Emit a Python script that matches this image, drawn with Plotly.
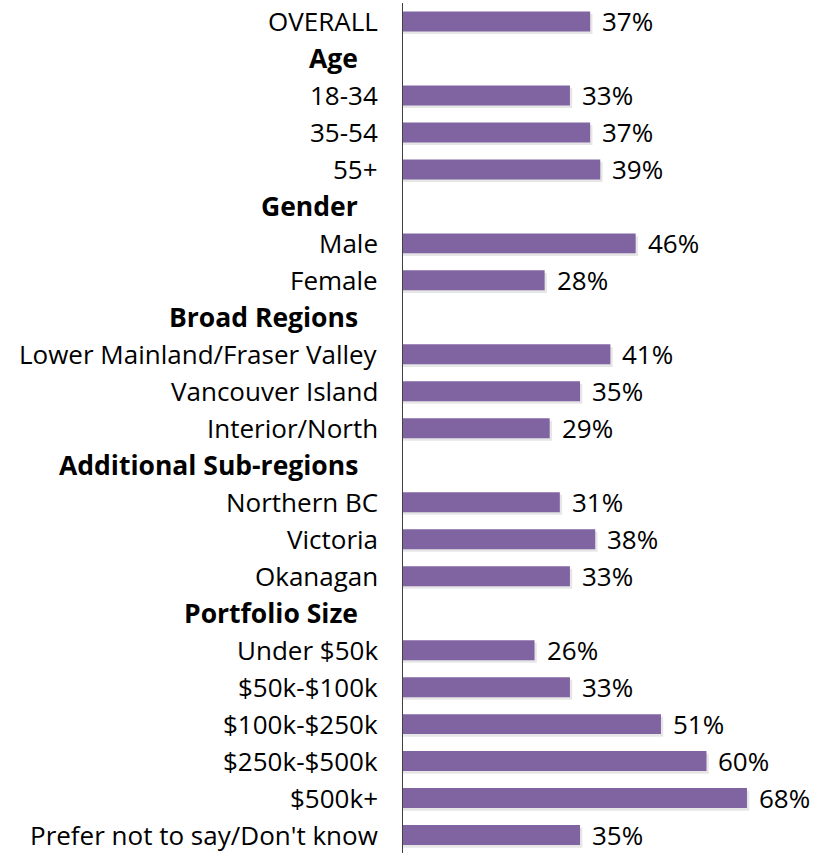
import plotly.graph_objects as go

# Rows from top to bottom; group headers carry no value
categories = [
    "OVERALL", "Age", "18-34", "35-54", "55+",
    "Gender", "Male", "Female",
    "Broad Regions", "Lower Mainland/Fraser Valley", "Vancouver Island", "Interior/North",
    "Additional Sub-regions", "Northern BC", "Victoria", "Okanagan",
    "Portfolio Size", "Under $50k", "$50k-$100k", "$100k-$250k", "$250k-$500k", "$500k+",
    "Prefer not to say/Don't know",
]
values = [
    37, None, 33, 37, 39,
    None, 46, 28,
    None, 41, 35, 29,
    None, 31, 38, 33,
    None, 26, 33, 51, 60, 68,
    35,
]
headers = {"Age", "Gender", "Broad Regions", "Additional Sub-regions", "Portfolio Size"}

BAR = "#8064A2"
FONT = "Open Sans"

n = len(categories)
bar_y = [i for i, v in enumerate(values) if v is not None]
bar_x = [v for v in values if v is not None]

fig = go.Figure()

# soft drop shadow under each bar
fig.add_trace(go.Bar(
    x=[v + 0.45 for v in bar_x], y=[y + 0.07 for y in bar_y], orientation="h",
    width=0.54, marker=dict(color="rgba(60,60,60,0.13)", line=dict(width=0)),
    hoverinfo="skip", showlegend=False,
))
fig.add_trace(go.Bar(
    x=bar_x, y=bar_y, orientation="h", width=0.54,
    marker=dict(color=BAR, line=dict(width=0)),
    showlegend=False,
))

# value labels just past the end of each bar
for y, v in zip(bar_y, bar_x):
    fig.add_annotation(
        x=v, y=y, xref="x", yref="y", text=f"{v}%",
        xanchor="left", yanchor="middle", xshift=11, borderpad=0,
        showarrow=False, font=dict(family=FONT, size=26, color="#000000"),
    )

# category labels to the left of the axis
for i, c in enumerate(categories):
    is_head = c in headers
    fig.add_annotation(
        x=0, y=i, xref="x", yref="y",
        text=f"<b>{c}</b>" if is_head else c,
        xanchor="right", yanchor="middle",
        xshift=-24 if not is_head else -44, borderpad=0,
        showarrow=False,
        font=dict(family=FONT, size=26 if not is_head else 26.5, color="#000000"),
    )

fig.update_layout(
    width=838, height=853,
    margin=dict(l=402, r=0, t=3, b=0),
    paper_bgcolor="white", plot_bgcolor="white",
    barmode="overlay",
    xaxis=dict(range=[-0.2, 86], visible=False, fixedrange=True),
    yaxis=dict(range=[22.485, -0.5], showticklabels=False, showgrid=False,
               zeroline=False, showline=False),
    shapes=[dict(type="line", xref="x", yref="paper", x0=-0.2, x1=-0.2, y0=0, y1=1,
                 line=dict(color="#404040", width=2))],
)

fig.write_html("out.html")
